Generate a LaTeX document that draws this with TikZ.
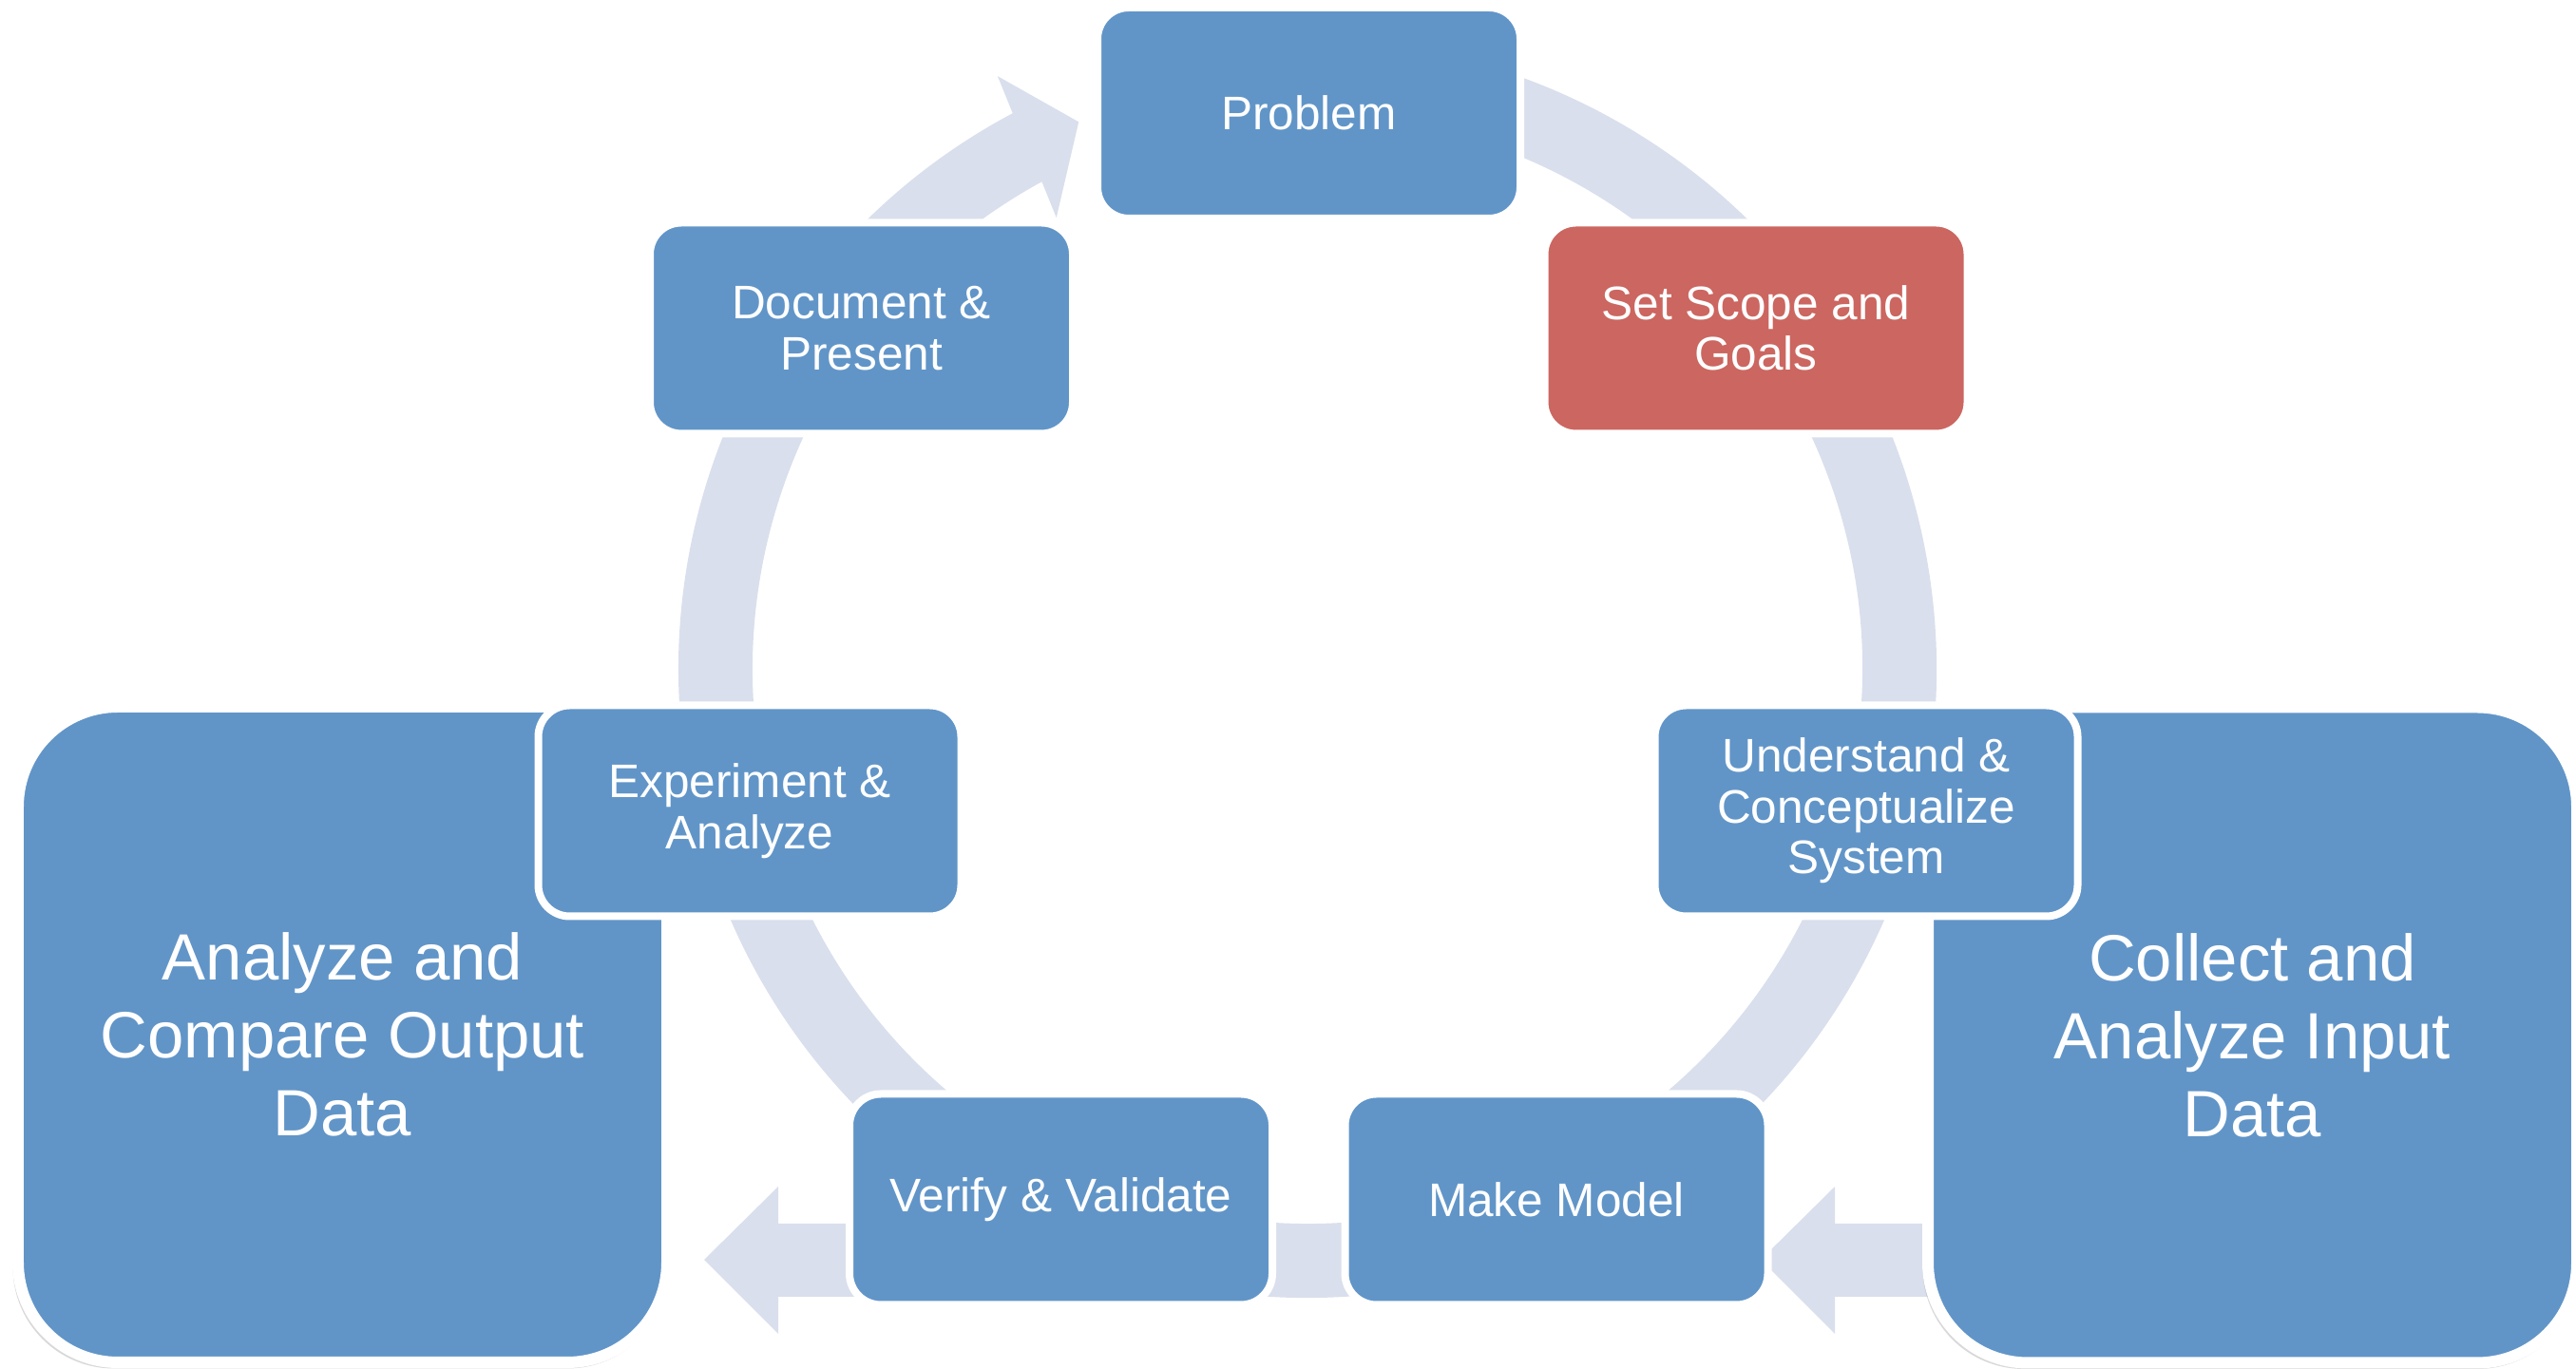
\documentclass[tikz,border=0pt]{standalone}
\usepackage{fontspec}
\setmainfont{Liberation Sans}
\usetikzlibrary{shadows}
\definecolor{boxblue}{HTML}{6195C8}
\definecolor{boxred}{HTML}{CC6660}
\definecolor{ring}{HTML}{D9DFEC}
\begin{document}
\begin{tikzpicture}[
  stepbox/.style={rectangle,rounded corners=0.33cm,fill=boxblue,draw=white,line width=0.08cm,
    minimum width=4.45cm,minimum height=2.22cm,inner sep=0pt,align=center,text=white,
    font=\fontsize{14.1}{15.25}\selectfont},
  bigbox/.style={rectangle,rounded corners=1.05cm,fill=boxblue,draw=white,line width=0.12cm,
    minimum width=6.83cm,minimum height=6.9cm,inner sep=0pt,align=center,text=white,
    font=\fontsize{19.6}{23.3}\selectfont,
    drop shadow={shadow xshift=-0.02cm,shadow yshift=-0.03cm,shadow scale=1.01,opacity=0.3}}]
\useasboundingbox (0,0) rectangle (27.11,14.41);
% cycle ring with its arrow head
\begin{scope}[shift={(13.76,7.37)}]
\fill[ring] (100:6.62) arc[start angle=100,end angle=-242.05,radius=6.62]
  -- (117.6:7.04) -- (112.7:6.24) -- (119.1:5.434) -- (118.6:5.84)
  arc[start angle=-241.4,end angle=100,radius=5.84] -- cycle;
\end{scope}
% block arrows into the data boxes
\fill[ring] (7.41,1.15) -- (8.19,1.92) -- (8.19,1.53) -- (9.5,1.53) -- (9.5,0.76)
  -- (8.19,0.76) -- (8.19,0.37) -- cycle;
\fill[ring] (18.53,1.15) -- (19.31,1.92) -- (19.31,1.53) -- (20.7,1.53) -- (20.7,0.76)
  -- (19.31,0.76) -- (19.31,0.37) -- cycle;
% data boxes
\node[bigbox] (output) at (3.605,3.52) {Analyze and\\Compare Output\\Data};
\node[bigbox] (input) at (23.705,3.515) {Collect and\\Analyze Input\\Data};
% steps
\node[stepbox] (problem) at (13.775,13.22) {Problem};
\node[stepbox,fill=boxred] (scope) at (18.48,10.955) {Set Scope and\\Goals};
\node[stepbox] (understand) at (19.64,5.875) {Understand \&\\Conceptualize\\System};
\node[stepbox] (model) at (16.38,1.785) {Make Model};
\node[stepbox] (verify) at (11.165,1.785) {Verify \& Validate};
\node[stepbox] (experiment) at (7.89,5.875) {Experiment \&\\Analyze};
\node[stepbox] (document) at (9.065,10.955) {Document \&\\Present};
\end{tikzpicture}
\end{document}
